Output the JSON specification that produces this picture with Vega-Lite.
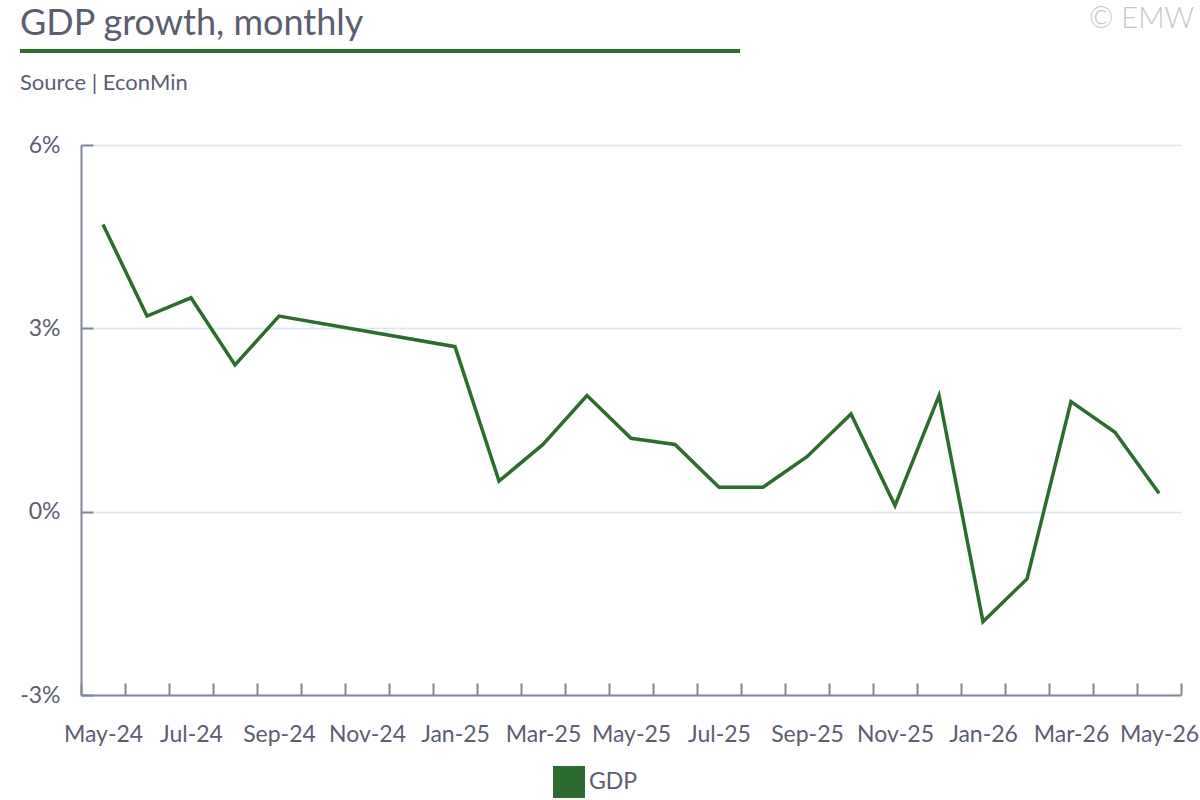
{
  "$schema": "https://vega.github.io/schema/vega-lite/v6.json",
  "width": 1100,
  "height": 550,
  "autosize": {"type": "none"},
  "padding": {"left": 81, "top": 145, "right": 19, "bottom": 105},
  "background": "#ffffff",
  "config": {
    "font": "Lato",
    "view": {"stroke": null},
    "axis": {"labelColor": "#5b5e70", "labelFont": "Lato", "labelFontSize": 23, "domainColor": "#7f8799", "domainWidth": 2, "tickColor": "#7f8799", "tickWidth": 2}
  },
  "layer": [
    {
      "data": {
        "values": [
          {"month": "May-24", "value": 4.7, "series": "GDP"},
          {"month": "Jun-24", "value": 3.2, "series": "GDP"},
          {"month": "Jul-24", "value": 3.5, "series": "GDP"},
          {"month": "Aug-24", "value": 2.4, "series": "GDP"},
          {"month": "Sep-24", "value": 3.2, "series": "GDP"},
          {"month": "Jan-25", "value": 2.7, "series": "GDP"},
          {"month": "Feb-25", "value": 0.5, "series": "GDP"},
          {"month": "Mar-25", "value": 1.1, "series": "GDP"},
          {"month": "Apr-25", "value": 1.9, "series": "GDP"},
          {"month": "May-25", "value": 1.2, "series": "GDP"},
          {"month": "Jun-25", "value": 1.1, "series": "GDP"},
          {"month": "Jul-25", "value": 0.4, "series": "GDP"},
          {"month": "Aug-25", "value": 0.4, "series": "GDP"},
          {"month": "Sep-25", "value": 0.9, "series": "GDP"},
          {"month": "Oct-25", "value": 1.6, "series": "GDP"},
          {"month": "Nov-25", "value": 0.1, "series": "GDP"},
          {"month": "Dec-25", "value": 1.9, "series": "GDP"},
          {"month": "Jan-26", "value": -1.8, "series": "GDP"},
          {"month": "Feb-26", "value": -1.1, "series": "GDP"},
          {"month": "Mar-26", "value": 1.8, "series": "GDP"},
          {"month": "Apr-26", "value": 1.3, "series": "GDP"},
          {"month": "May-26", "value": 0.3, "series": "GDP"}
        ]
      },
      "mark": {"type": "line", "strokeWidth": 3.5},
      "encoding": {
        "x": {
          "field": "month",
          "type": "ordinal",
          "bandPosition": 0.5,
          "sort": null,
          "scale": {
            "type": "band",
            "paddingInner": 0,
            "paddingOuter": 0,
            "domain": ["May-24", "Jun-24", "Jul-24", "Aug-24", "Sep-24", "Oct-24", "Nov-24", "Dec-24", "Jan-25", "Feb-25", "Mar-25", "Apr-25", "May-25", "Jun-25", "Jul-25", "Aug-25", "Sep-25", "Oct-25", "Nov-25", "Dec-25", "Jan-26", "Feb-26", "Mar-26", "Apr-26", "May-26"]
          },
          "axis": {
            "title": null,
            "tickBand": "extent",
            "tickSize": -12,
            "labelPadding": 40,
            "labelAngle": 0,
            "grid": false,
            "labelExpr": "indexof(['May','Jul','Sep','Nov','Jan','Mar'], slice(datum.label, 0, 3)) >= 0 ? datum.label : ''"
          }
        },
        "y": {
          "field": "value",
          "type": "quantitative",
          "scale": {"domain": [-3, 6], "nice": false, "zero": false},
          "axis": {
            "title": null,
            "values": [-3, 0, 3, 6],
            "labelExpr": "datum.value + '%'",
            "tickSize": -12,
            "labelPadding": 33,
            "grid": true,
            "gridColor": "#dce6f0",
            "gridWidth": 1.5
          }
        },
        "color": {
          "field": "series",
          "type": "nominal",
          "scale": {"range": ["#2e6b2e"]},
          "legend": {
            "title": null,
            "orient": "none",
            "legendX": 472,
            "legendY": 621,
            "direction": "horizontal",
            "symbolType": "square",
            "symbolSize": 1024,
            "symbolStrokeWidth": 0,
            "labelFontSize": 23,
            "labelColor": "#5b5e70",
            "encode": {"symbols": {"update": {"fill": {"value": "#2e6b2e"}, "stroke": {"value": "#2e6b2e"}}}}
          }
        }
      }
    },
    {
      "data": {"values": [{"label": "GDP growth, monthly"}]},
      "mark": {"type": "text", "align": "left", "baseline": "alphabetic", "fontSize": 36, "fontWeight": "normal", "color": "#5b5e70"},
      "encoding": {
        "text": {"field": "label"},
        "x": {"value": -61},
        "y": {"value": -110}
      }
    },
    {
      "data": {"values": [{"label": "Source | EconMin"}]},
      "mark": {"type": "text", "align": "left", "baseline": "alphabetic", "fontSize": 22, "fontWeight": "normal", "color": "#5b5e70"},
      "encoding": {
        "text": {"field": "label"},
        "x": {"value": -61},
        "y": {"value": -55}
      }
    },
    {
      "data": {"values": [{"label": "underline"}]},
      "mark": {"type": "rule", "color": "#2e6b2e", "strokeWidth": 4},
      "encoding": {
        "x": {"value": -61},
        "x2": {"value": 659},
        "y": {"value": -94}
      }
    },
    {
      "data": {"values": [{"label": "© EMW"}]},
      "mark": {"type": "text", "align": "right", "baseline": "alphabetic", "fontSize": 29, "fontWeight": 300, "color": "#c4c6cc"},
      "encoding": {
        "text": {"field": "label"},
        "x": {"value": 1113},
        "y": {"value": -117}
      }
    }
  ]
}
